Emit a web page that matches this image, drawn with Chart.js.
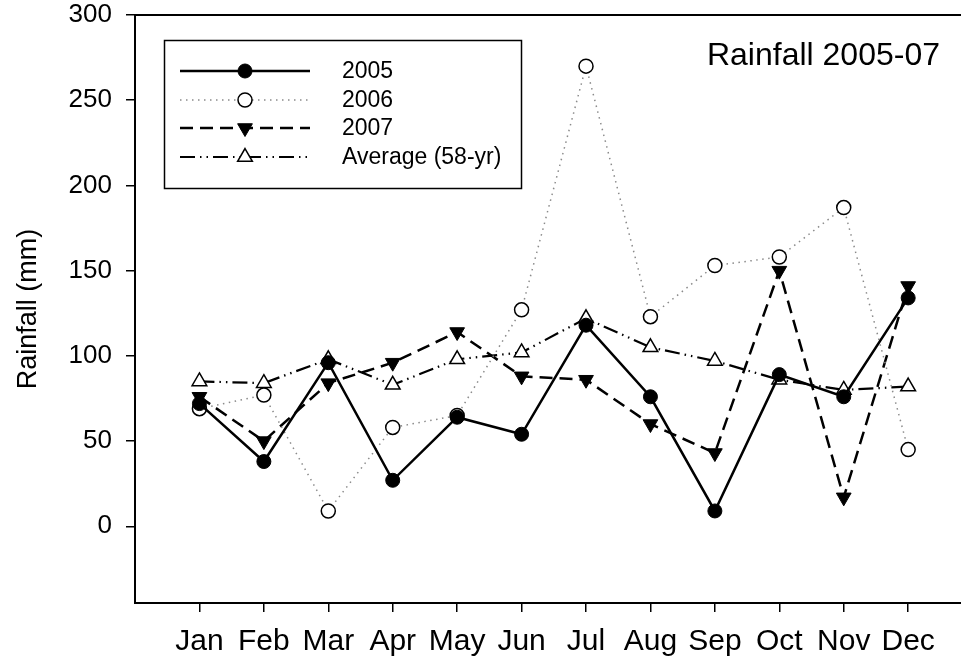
<!DOCTYPE html>
<html>
<head>
<meta charset="utf-8">
<script src="https://cdn.jsdelivr.net/npm/chart.js@4.4.1/dist/chart.umd.min.js"></script>
<style>
html,body{margin:0;padding:0;background:#fff;overflow:hidden;}
#wrap{width:961px;height:657px;position:relative;overflow:hidden;}
</style>
</head>
<body>
<div id="wrap"><canvas id="c" width="961" height="657"></canvas></div>
<script>
const months = ["Jan","Feb","Mar","Apr","May","Jun","Jul","Aug","Sep","Oct","Nov","Dec"];
const rain2005 = [72, 38, 96, 27, 64, 54, 118, 76, 9, 89, 76, 134];
const rain2006 = [69, 77, 9, 58, 65, 127, 270, 123, 153, 158, 187, 45];
const rain2007 = [76, 50, 84, 96, 114, 88, 86, 60, 43, 150, 17, 141];
const rainAvg  = [85, 84, 98, 83, 98, 102, 122, 105, 97, 86, 80, 82];
const yTicks = [0, 50, 100, 150, 200, 250, 300];
const legendLabels = ["2005", "2006", "2007", "Average (58-yr)"];

const FONT = "'Liberation Sans', Arial, sans-serif";
const toXY = arr => arr.map((v, i) => ({x: i + 1, y: v}));

const datasets = [
  {label: legendLabels[0], data: toXY(rain2005), borderColor: '#000', borderWidth: 2.5,
   pointStyle: 'circle', pointRadius: 7, pointBackgroundColor: '#000', pointBorderColor: '#000', pointBorderWidth: 1, pointRotation: 0},
  {label: legendLabels[1], data: toXY(rain2006), borderColor: '#8a8a8a', borderWidth: 1.5, borderDash: [1.5, 4.5],
   pointStyle: 'circle', pointRadius: 7, pointBackgroundColor: '#fff', pointBorderColor: '#000', pointBorderWidth: 1.5, pointRotation: 0},
  {label: legendLabels[2], data: toXY(rain2007), borderColor: '#000', borderWidth: 2.5, borderDash: [13, 7],
   pointStyle: 'triangle', pointRadius: 8.5, pointBackgroundColor: '#000', pointBorderColor: '#000', pointBorderWidth: 1, pointRotation: 180},
  {label: legendLabels[3], data: toXY(rainAvg), borderColor: '#000', borderWidth: 2.2, borderDash: [15, 5, 1.5, 5, 1.5, 5],
   pointStyle: 'triangle', pointRadius: 8.5, pointBackgroundColor: '#fff', pointBorderColor: '#000', pointBorderWidth: 1.5, pointRotation: 0}
];
datasets.forEach(d => { d.tension = 0; d.fill = false; d.pointHoverRadius = d.pointRadius; });

function drawMarker(ctx, ds, x, y) {
  ctx.save();
  ctx.fillStyle = ds.pointBackgroundColor;
  ctx.strokeStyle = ds.pointBorderColor;
  ctx.lineWidth = ds.pointBorderWidth;
  ctx.setLineDash([]);
  ctx.beginPath();
  const r = ds.pointRadius;
  if (ds.pointStyle === 'circle') {
    ctx.arc(x, y, r, 0, Math.PI * 2);
  } else {
    let a = ds.pointRotation * Math.PI / 180;
    ctx.moveTo(x + Math.sin(a) * r, y - Math.cos(a) * r);
    a += 2 * Math.PI / 3;
    ctx.lineTo(x + Math.sin(a) * r, y - Math.cos(a) * r);
    a += 2 * Math.PI / 3;
    ctx.lineTo(x + Math.sin(a) * r, y - Math.cos(a) * r);
  }
  ctx.closePath();
  ctx.fill();
  ctx.stroke();
  ctx.restore();
}

const overlay = {
  id: 'overlay',
  afterDraw(chart) {
    const ctx = chart.ctx;
    ctx.save();
    ctx.strokeStyle = '#000';
    ctx.lineWidth = 1.5;
    ctx.strokeRect(164.5, 40.5, 357, 148);
    const rows = [71, 100, 128, 157];
    chart.data.datasets.forEach((ds, i) => {
      const y = rows[i];
      ctx.save();
      ctx.strokeStyle = ds.borderColor;
      ctx.lineWidth = ds.borderWidth;
      ctx.setLineDash(ds.borderDash || []);
      ctx.beginPath();
      ctx.moveTo(180, y);
      ctx.lineTo(310, y);
      ctx.stroke();
      ctx.restore();
      drawMarker(ctx, ds, 245, y);
      ctx.fillStyle = '#000';
      ctx.font = '23px ' + FONT;
      ctx.textAlign = 'left';
      ctx.textBaseline = 'middle';
      ctx.fillText(ds.label, 342, y + 1);
    });
    ctx.fillStyle = '#000';
    ctx.font = '32px ' + FONT;
    ctx.textAlign = 'right';
    ctx.textBaseline = 'middle';
    ctx.fillText('Rainfall 2005-07', 940, 56);
    ctx.restore();
  }
};

new Chart(document.getElementById('c'), {
  type: 'line',
  data: {datasets},
  plugins: [overlay],
  options: {
    responsive: false,
    animation: false,
    devicePixelRatio: 1,
    layout: {autoPadding: false, padding: {top: 15, right: 0, left: 0, bottom: 0}},
    plugins: {legend: {display: false}, tooltip: {enabled: false}, title: {display: false}},
    scales: {
      x: {
        type: 'linear', position: 'bottom', min: 0, max: 12.82,
        afterBuildTicks: axis => { axis.ticks = months.map((m, i) => ({value: i + 1})); },
        afterFit: axis => { axis.height = 54; axis.paddingLeft = 0; axis.paddingRight = 0; },
        ticks: {callback: v => months[v - 1] || '', color: '#000', padding: 12, maxRotation: 0, autoSkip: false,
          font: {family: FONT, size: 30}},
        grid: {drawOnChartArea: false, drawTicks: true, tickLength: 9, color: '#000', lineWidth: 1.5},
        border: {display: true, color: '#000', width: 2}
      },
      xTop: {
        type: 'linear', position: 'top', min: 0, max: 12.82,
        afterFit: axis => { axis.height = 0; axis.paddingLeft = 0; axis.paddingRight = 0; },
        ticks: {display: false},
        grid: {display: false, drawTicks: false},
        border: {display: true, color: '#000', width: 2}
      },
      y: {
        type: 'linear', min: -45, max: 300,
        afterBuildTicks: axis => { axis.ticks = yTicks.map(v => ({value: v})); },
        afterFit: axis => { axis.width = 135; axis.paddingTop = 0; axis.paddingBottom = 0; },
        ticks: {color: '#000', padding: 14, font: {family: FONT, size: 26}},
        grid: {drawOnChartArea: false, drawTicks: true, tickLength: 9, color: '#000', lineWidth: 1.5},
        border: {display: true, color: '#000', width: 2},
        title: {display: true, text: 'Rainfall (mm)', color: '#000', font: {family: FONT, size: 27}, padding: {top: 12, bottom: 0}}
      }
    }
  }
});
</script>
</body>
</html>
